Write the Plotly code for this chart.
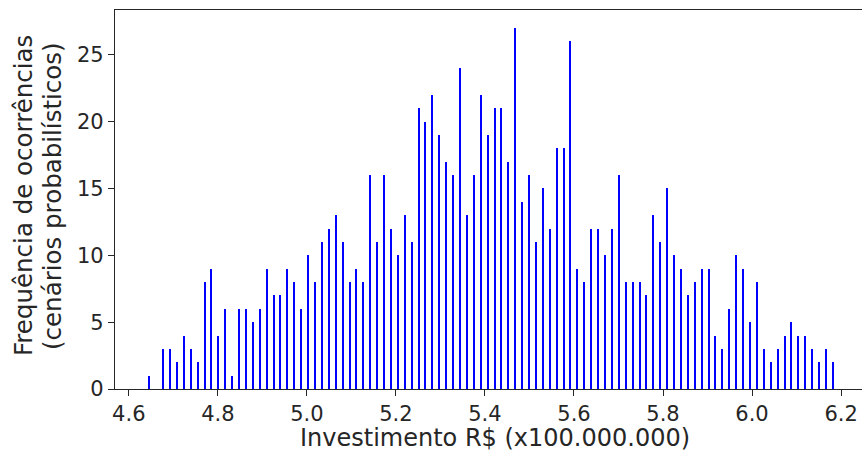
import plotly.graph_objects as go

# Histogram: 100 bins, first bin position and bin width (x100.000.000 R$)
bin_start = 4.6465
bin_width = 0.01551
counts = [1, 0, 3, 3, 2, 4, 3, 2, 8, 9,
          4, 6, 1, 6, 6, 5, 6, 9, 7, 7,
          9, 8, 6, 10, 8, 11, 12, 13, 11, 8,
          9, 8, 16, 11, 16, 12, 10, 13, 11, 21,
          20, 22, 19, 17, 16, 24, 13, 16, 22, 19,
          21, 21, 17, 27, 14, 16, 11, 15, 12, 18,
          18, 26, 9, 8, 12, 12, 10, 12, 16, 8,
          8, 8, 7, 13, 11, 15, 10, 9, 7, 8,
          9, 9, 4, 3, 6, 10, 9, 5, 8, 3,
          2, 3, 4, 5, 4, 4, 3, 2, 3, 2]
x_ticks = [4.6, 4.8, 5.0, 5.2, 5.4, 5.6, 5.8, 6.0, 6.2]
x_tick_labels = ["4.6", "4.8", "5.0", "5.2", "5.4", "5.6", "5.8", "6.0", "6.2"]
y_ticks = [0, 5, 10, 15, 20, 25]
x_title = "Investimento R$ (x100.000.000)"
y_title_lines = ["Frequência de ocorrências", "(cenários probabilísticos)"]

x_vals = [bin_start + i * bin_width for i in range(len(counts))]

FONT = "DejaVu Sans"
W, H = 862, 455
L, R, T, B = 115, 0, 10, 66

fig = go.Figure(go.Bar(
    x=x_vals, y=counts, width=0.0032,
    marker=dict(color="#0000ff", line=dict(width=0)),
))

fig.update_layout(
    width=W, height=H,
    margin=dict(l=L, r=R, t=T, b=B, pad=0),
    plot_bgcolor="white", paper_bgcolor="white",
    showlegend=False,
    font=dict(family=FONT, color="#262626"),
    bargap=0,
)
fig.update_xaxes(
    range=[4.569, 6.247],
    tickvals=x_ticks, ticktext=x_tick_labels,
    ticks="outside", ticklen=6, tickwidth=1.3, tickcolor="#262626",
    tickfont=dict(family=FONT, size=21, color="#262626"),
    showgrid=False, zeroline=False,
    showline=True, linecolor="#262626", linewidth=1.3, mirror=True,
)
fig.update_yaxes(
    range=[0, 28.35],
    tickvals=y_ticks,
    ticks="outside", ticklen=6, tickwidth=1.3, tickcolor="#262626",
    tickfont=dict(family=FONT, size=21, color="#262626"),
    showgrid=False, zeroline=False,
    showline=True, linecolor="#262626", linewidth=1.3, mirror=False,
)

pw = W - L - R
ph = H - T - B
fig.add_annotation(
    text=x_title, xref="paper", yref="paper",
    x=(495 - L) / pw, y=-(438 - (T + ph)) / ph,
    showarrow=False, xanchor="center", yanchor="middle",
    font=dict(family=FONT, size=24, color="#262626"),
)
for line_text, cx in zip(y_title_lines, [23, 52]):
    fig.add_annotation(
        text=line_text, xref="paper", yref="paper",
        x=-(L - cx) / pw, y=(T + ph - 196) / ph,
        showarrow=False, xanchor="center", yanchor="middle", textangle=-90,
        font=dict(family=FONT, size=24.5, color="#262626"),
    )

fig.write_html("out.html")
